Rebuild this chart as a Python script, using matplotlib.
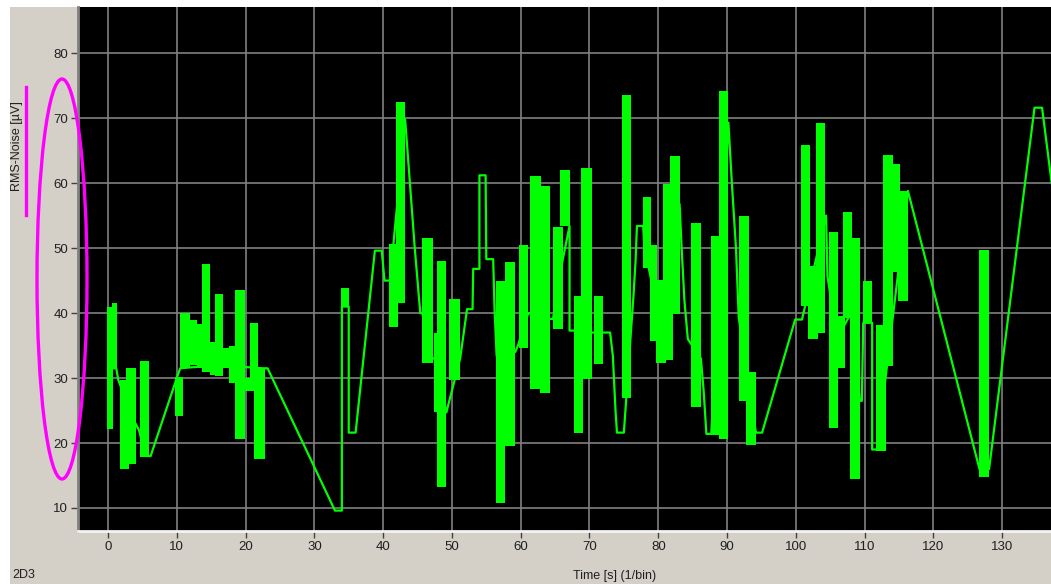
import numpy as np
import matplotlib
matplotlib.use("Agg")
import matplotlib.pyplot as plt
from matplotlib.patches import Ellipse, Rectangle

plt.rcParams["font.family"] = ["Liberation Sans", "DejaVu Sans"]

W, H = 1051, 584

# burst segments: the signal toggles fast between low and high inside [start, end]
burst_start = [-0.2, 0.6, 1.8, 2.6, 4.7, 9.7, 10.5, 11.9, 12.9, 13.6, 14.8, 15.6, 16.7,
               17.6, 18.4, 19.9, 20.6, 21.3, 33.9, 40.8, 41.9, 45.7, 47.4, 47.8, 49.6,
               56.4, 57.7, 59.7, 61.4, 62.8, 64.7, 65.7, 67.7, 68.7, 70.7, 74.8, 77.8,
               78.8, 79.7, 80.7, 81.7, 84.7, 87.7, 88.9, 91.8, 92.8, 100.8, 101.7, 102.9,
               104.8, 106.1, 106.8, 107.9, 109.8, 111.7, 112.7, 114.2, 114.8, 126.7]
burst_end = [0.7, 1.3, 3.0, 4.0, 5.9, 10.9, 11.9, 12.9, 13.6, 14.8, 15.6, 16.7, 17.6,
             18.4, 19.9, 20.6, 21.8, 22.8, 35.1, 42.2, 43.2, 47.2, 47.8, 49.2, 51.2,
             57.7, 59.2, 61.1, 62.9, 64.2, 66.1, 67.2, 69.0, 70.3, 72.0, 76.1, 79.0,
             79.8, 81.1, 82.1, 83.1, 86.2, 89.1, 90.2, 93.2, 94.2, 102.1, 103.2, 104.3,
             106.1, 107.1, 108.2, 109.3, 111.1, 113.1, 114.2, 115.1, 116.3, 128.1]
burst_low = [22.2, 31.5, 16.0, 16.8, 17.8, 24.1, 31.6, 32.0, 31.6, 31.0, 30.5, 30.3, 31.5,
             29.3, 20.6, 28.0, 28.0, 17.5, 40.9, 37.8, 41.5, 32.3, 24.7, 13.3, 29.7,
             10.8, 19.6, 34.6, 28.3, 27.7, 37.5, 53.4, 21.6, 29.8, 32.2, 26.9, 46.9,
             35.7, 32.3, 32.7, 39.8, 25.5, 21.2, 20.6, 26.4, 19.7, 41.1, 36.0, 37.0,
             22.3, 31.5, 39.2, 14.4, 38.5, 18.7, 31.9, 46.3, 41.9, 14.7]
burst_high = [40.9, 41.5, 29.7, 31.5, 32.6, 30.2, 40.0, 38.9, 38.3, 47.5, 35.6, 43.0, 34.6,
              34.9, 43.6, 30.0, 38.5, 31.6, 43.9, 50.6, 72.5, 51.5, 37.0, 48.0, 42.2,
              44.9, 47.8, 50.5, 61.1, 59.6, 53.3, 62.0, 42.7, 62.3, 42.6, 73.5, 57.9,
              50.5, 45.1, 59.8, 64.1, 53.8, 51.9, 74.2, 55.0, 31.0, 65.8, 47.3, 69.3,
              52.4, 39.6, 55.6, 51.5, 44.9, 38.2, 64.3, 63.0, 58.8, 49.7]

# thin trace joining the bursts
trace_t = [0.0, 1.2, 1.5, 3.5, 4.5, 5.5, 6.2, 10.0, 10.5, 16.0, 22.5, 23.2, 33.0, 34.0,
           34.0, 35.0, 35.0, 36.0, 38.8, 39.8, 40.2, 41.0, 43.2, 43.4, 44.6, 45.4, 45.7,
           47.2, 47.5, 49.2, 49.5, 51.2, 52.2, 53.0, 53.1, 54.0, 54.0, 54.9, 55.0, 56.0,
           56.2, 56.5, 59.2, 59.6, 61.1, 64.2, 64.7, 65.5, 67.1, 67.1, 67.7, 70.3, 72.0,
           73.0, 73.4, 73.8, 74.0, 75.0, 76.4, 76.7, 76.9, 77.8, 78.0, 80.0, 82.0, 83.1,
           83.4, 83.8, 84.3, 86.2, 86.6, 87.0, 87.7, 90.2, 90.7, 91.3, 91.7, 94.2, 95.1,
           99.9, 100.9, 104.4, 104.6, 106.1, 107.0, 108.0, 109.3, 109.6, 109.8, 111.1,
           111.1, 111.8, 116.3, 126.7, 128.1, 134.7, 135.8, 137.2]
trace_v = [31.5, 31.5, 29.7, 24.0, 22.0, 18.0, 18.0, 30.0, 31.5, 32.0, 31.5, 31.5, 9.6, 9.6,
           41.0, 41.0, 21.6, 21.6, 49.6, 49.6, 45.0, 45.0, 69.8, 67.0, 50.0, 40.0, 40.0,
           33.0, 33.0, 24.7, 26.0, 33.0, 40.6, 40.6, 46.8, 46.8, 61.2, 61.2, 48.3, 48.3,
           40.6, 33.4, 34.0, 35.0, 40.0, 39.1, 39.1, 45.0, 53.4, 37.3, 37.3, 37.0, 37.0,
           37.0, 33.4, 24.7, 21.6, 21.6, 42.7, 48.0, 53.4, 53.4, 50.0, 40.0, 45.0, 56.8,
           50.0, 42.0, 36.0, 33.0, 28.0, 21.4, 21.4, 69.3, 60.0, 50.0, 39.3, 21.6, 21.6,
           39.0, 39.0, 55.0, 45.7, 35.0, 38.0, 40.0, 26.5, 26.5, 38.5, 38.5,
           19.0, 19.0, 58.8, 16.0, 16.0, 71.6, 71.6, 60.0]

x_ticks = list(range(0, 131, 10))
y_ticks = list(range(10, 81, 10))

GREEN = "#00ff00"
PANEL = "#d4d0c8"
GRID = "#808080"

fig = plt.figure(figsize=(W / 100, H / 100), dpi=100, facecolor=PANEL)


def fx(x):
    return x / W


def fy(y):
    return 1 - y / H


# thin white border strips at the top and left of the window
fig.patches.append(Rectangle((0, 0), fx(10), 1, transform=fig.transFigure,
                             facecolor="white", edgecolor="none", zorder=-5))
fig.patches.append(Rectangle((0, fy(7)), 1, 1 - fy(7), transform=fig.transFigure,
                             facecolor="white", edgecolor="none", zorder=-5))

ax = fig.add_axes([fx(78), fy(531), 1 - fx(78), fy(7) - fy(531)])
ax.set_facecolor("black")

ax.bar(burst_start, np.array(burst_high) - np.array(burst_low),
       width=np.array(burst_end) - np.array(burst_start), bottom=burst_low,
       align="edge", color=GREEN, linewidth=0, zorder=3)
ax.plot(trace_t, trace_v, color=GREEN, lw=1.6, zorder=3)

ax.set_xlim(-4.36, 137.1)
ax.set_ylim(6.46, 87.1)
ax.set_xticks(x_ticks)
ax.set_yticks(y_ticks)
ax.grid(True, color=GRID, lw=1.2, zorder=1)
ax.set_axisbelow(True)
ax.tick_params(axis="both", direction="out", length=5, width=1, color="#404040",
               labelsize=9.5, labelcolor="#202020", pad=2)
for side in ["top", "right"]:
    ax.spines[side].set_visible(False)
ax.spines["left"].set_color(GRID)
ax.spines["left"].set_linewidth(2)
ax.spines["bottom"].set_color("#f4f4f4")
ax.spines["bottom"].set_linewidth(2)

fig.text(fx(17), fy(146), "RMS-Noise [µV]", rotation=90, ha="center", va="center",
         fontsize=9, color="#202020")
fig.text(fx(615), fy(576), "Time [s] (1/bin)", ha="center", va="center",
         fontsize=9, color="#202020")
fig.text(fx(12), fy(575), "2D3", ha="left", va="center", fontsize=9, color="#202020")

# magenta hand annotations
fig.add_artist(Ellipse((fx(62), fy(279)), fx(50), 400 / H, transform=fig.transFigure,
                       fill=False, edgecolor="#ff00ff", lw=2.4, zorder=10))
fig.add_artist(plt.Line2D([fx(26), fx(26)], [fy(87), fy(215)], transform=fig.transFigure,
                          color="#ff00ff", lw=2.4, zorder=10))

fig.savefig("out.png", dpi=100, facecolor=PANEL)
